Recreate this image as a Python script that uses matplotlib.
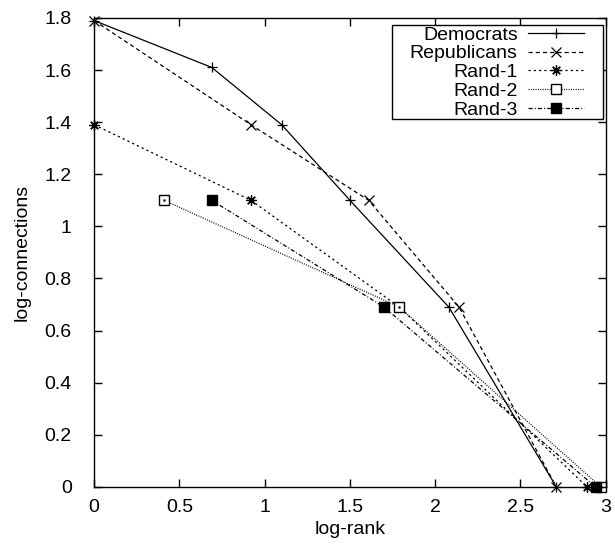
import numpy as np
import matplotlib
matplotlib.use('Agg')
import matplotlib.pyplot as plt
from matplotlib.patches import Rectangle
from matplotlib.ticker import FuncFormatter

plt.rcParams['font.family'] = ['Liberation Sans', 'DejaVu Sans']
plt.rcParams['lines.scale_dashes'] = False

# log-rank / log-connections
dem_x = [0, 0.69, 1.10, 1.50, 2.08, 2.71]
dem_y = [1.79, 1.61, 1.39, 1.10, 0.69, 0]
rep_x = [0, 0.92, 1.61, 2.14, 2.71]
rep_y = [1.79, 1.39, 1.10, 0.69, 0]
r1_x = [0, 0.92, 1.79, 2.89]
r1_y = [1.39, 1.10, 0.69, 0]
r2_x = [0.41, 1.79, 2.97]
r2_y = [1.10, 0.69, 0]
r3_x = [0.69, 1.70, 2.94]
r3_y = [1.10, 0.69, 0]

xticks = [0, 0.5, 1, 1.5, 2, 2.5, 3]
yticks = [0, 0.2, 0.4, 0.6, 0.8, 1, 1.2, 1.4, 1.6, 1.8]

fig = plt.figure(figsize=(6.15, 5.44), dpi=100)
ax = fig.add_axes([0.153, 0.105, 0.832, 0.862])

lw = 0.9
fs = 14
ax.plot(dem_x, dem_y, color='k', lw=lw, marker='+', ms=7.5, mew=0.9, label='Democrats', clip_on=False)
ax.plot(rep_x, rep_y, color='k', lw=lw, dashes=(3, 2.2), marker='x', ms=6.5, mew=0.9,
        label='Republicans', clip_on=False)
ax.plot(r1_x, r1_y, color='k', lw=lw, dashes=(1.6, 2.2), marker=(8, 2, 0), ms=7.5, mew=0.9,
        label='Rand-1', clip_on=False)
ax.plot(r2_x, r2_y, color='k', lw=lw, dashes=(0.7, 1.0), marker='s', ms=6.5, mew=1.0,
        mfc='white', label='Rand-2', clip_on=False)
ax.plot(r2_x, r2_y, ls='none', color='k', marker='s', ms=1.2, mew=0.3, clip_on=False)
ax.plot(r3_x, r3_y, color='k', lw=lw, dashes=(3, 1.5, 0.7, 1.5), marker='s', ms=7.5,
        mfc='k', label='Rand-3', clip_on=False)

ax.set_xlim(0, 3)
ax.set_ylim(0, 1.8)
ax.set_xticks(xticks)
ax.set_yticks(yticks)
fmt = FuncFormatter(lambda v, p: '%g' % v)
ax.xaxis.set_major_formatter(fmt)
ax.yaxis.set_major_formatter(fmt)
ax.tick_params(direction='in', length=6, width=1, top=True, right=True, labelsize=fs)
ax.tick_params(axis='x', pad=9)
ax.tick_params(axis='y', pad=16)
for s in ax.spines.values():
    s.set_linewidth(1.0)

ax.set_xlabel('log-rank', fontsize=fs, labelpad=3)
ax.set_ylabel('log-connections', fontsize=fs, labelpad=10)

# gnuplot-style key: wide box, labels right-aligned, samples on the right
ax.add_patch(Rectangle((0.582, 0.785), 0.412, 0.2, transform=ax.transAxes,
                       facecolor='white', edgecolor='k', lw=1.0, zorder=4))
leg = ax.legend(loc='upper right', bbox_to_anchor=(0.957, 0.983), markerfirst=False,
                fontsize=fs, handlelength=2.85, labelspacing=0.06, borderaxespad=0,
                frameon=False, borderpad=0, handletextpad=0.55)
leg.set_zorder(5)
leg._legend_handle_box.get_children()[0].align = 'right'

fig.savefig('out.png', dpi=100)
